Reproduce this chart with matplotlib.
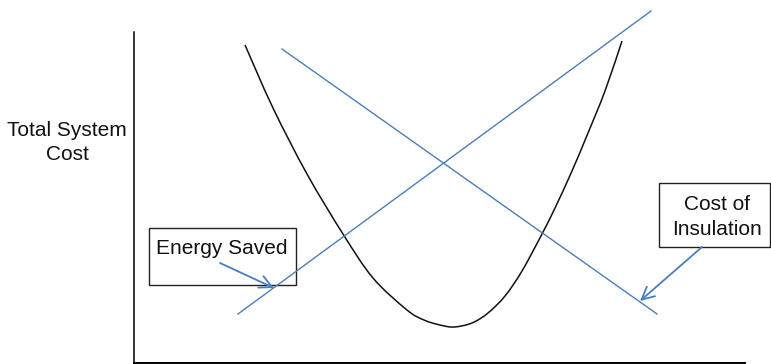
import matplotlib
matplotlib.use("Agg")
import matplotlib.pyplot as plt
from matplotlib.patches import Rectangle, PathPatch
from matplotlib.path import Path

plt.rcParams['font.family'] = ['Liberation Sans', 'DejaVu Sans']

# Data (schematic units; origin at axes corner)
curve_x = [111, 139, 173, 209, 239, 273, 290, 306, 320, 338, 354, 371, 388,
           408, 421, 438, 454, 471, 488]
curve_y = [318, 255, 189, 129, 85, 53, 43, 38, 36, 40, 50, 67, 92,
           129, 155, 192, 230, 272, 322]
energy_x = [104, 517]
energy_y = [49, 352]
insul_x = [148, 523]
insul_y = [314, 49]
y_label = "Total System\nCost"
energy_label = "Energy Saved"
insul_label = ["Cost of", "Insulation"]

W, H = 771, 364
fig = plt.figure(figsize=(W / 100, H / 100), dpi=100)
ax = fig.add_axes([134 / W, 1 / H, 611 / W, 363 / H])
ax.set_xlim(0, 611)
ax.set_ylim(0, 363)
ax.set_xticks([])
ax.set_yticks([])
for s in ['top', 'right']:
    ax.spines[s].set_visible(False)
ax.spines['left'].set_bounds(0, 331)
ax.spines['left'].set_linewidth(1.1)
ax.spines['bottom'].set_linewidth(1.4)
ax.patch.set_alpha(0)

blue = '#4a7ebb'


def smooth_path(xs, ys):
    """Cubic Bezier path through the given points (Catmull-Rom tangents)."""
    pts = list(zip(xs, ys))
    verts = [pts[0]]
    codes = [Path.MOVETO]
    n = len(pts)
    for i in range(n - 1):
        p0 = pts[i - 1] if i > 0 else pts[i]
        p1 = pts[i]
        p2 = pts[i + 1]
        p3 = pts[i + 2] if i + 2 < n else pts[i + 1]
        c1 = (p1[0] + (p2[0] - p0[0]) / 6, p1[1] + (p2[1] - p0[1]) / 6)
        c2 = (p2[0] - (p3[0] - p1[0]) / 6, p2[1] - (p3[1] - p1[1]) / 6)
        verts += [c1, c2, p2]
        codes += [Path.CURVE4] * 3
    return Path(verts, codes)


ax.add_patch(PathPatch(smooth_path(curve_x, curve_y), fill=False,
                       ec='#111111', lw=1.1, clip_on=False))
ax.plot(energy_x, energy_y, color=blue, lw=1.0, clip_on=False)
ax.plot(insul_x, insul_y, color=blue, lw=1.0, clip_on=False)

# Energy Saved box
ax.add_patch(Rectangle((15, 78), 147, 57, fill=False, ec='#222222', lw=1.0,
                       clip_on=False))
ax.text(88, 109, energy_label, ha='center', va='baseline', fontsize=15,
        color='#111111')
ax.annotate('', xy=(140, 75), xytext=(86, 100),
            arrowprops=dict(arrowstyle='->, head_length=0.6, head_width=0.3',
                            color=blue, lw=1.3, mutation_scale=15,
                            shrinkA=0, shrinkB=0), annotation_clip=False)

# Cost of Insulation box
ax.add_patch(Rectangle((525, 116), 111, 64, fill=False, ec='#222222', lw=1.0,
                       clip_on=False))
ax.text(583, 153, insul_label[0], ha='center', va='baseline', fontsize=15,
        color='#111111')
ax.text(583, 128, insul_label[1], ha='center', va='baseline', fontsize=15,
        color='#111111')
ax.annotate('', xy=(506, 62), xytext=(568, 116),
            arrowprops=dict(arrowstyle='->, head_length=0.6, head_width=0.3',
                            color=blue, lw=1.3, mutation_scale=15,
                            shrinkA=0, shrinkB=0), annotation_clip=False)

# y label
lines = y_label.split("\n")
ax.text(-67, 227, lines[0], ha='center', va='baseline', fontsize=15,
        color='#111111')
ax.text(-67, 203, lines[1], ha='center', va='baseline', fontsize=15,
        color='#111111')

fig.savefig('out.png', dpi=100)
